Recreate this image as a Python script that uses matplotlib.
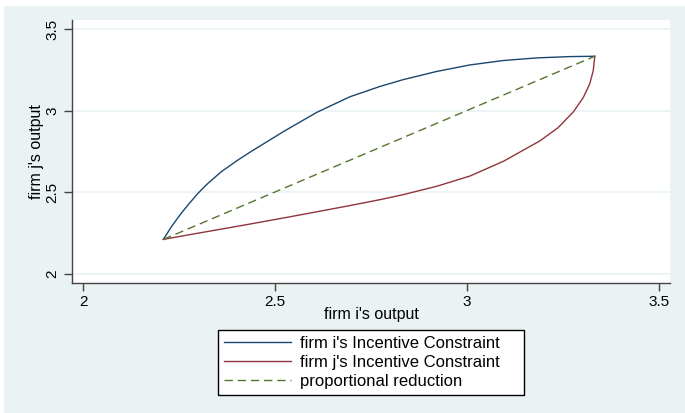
import matplotlib
matplotlib.use("Agg")
import matplotlib.pyplot as plt
from matplotlib.patches import Rectangle

plt.rcParams['font.family'] = ['Liberation Sans', 'DejaVu Sans']

# firm i's incentive constraint
ic_i_x = [2.209, 2.231, 2.253, 2.274, 2.300, 2.326, 2.361, 2.404, 2.439, 2.522,
          2.609, 2.695, 2.773, 2.834, 2.921, 3.008, 3.095, 3.182, 3.268, 3.333]
ic_i_y = [2.212, 2.293, 2.364, 2.425, 2.496, 2.557, 2.628, 2.699, 2.752, 2.872,
          2.990, 3.085, 3.148, 3.190, 3.240, 3.280, 3.307, 3.323, 3.331, 3.333]

# firm j's incentive constraint
ic_j_x = [2.209, 2.261, 2.348, 2.435, 2.522, 2.609, 2.695, 2.773, 2.834, 2.921,
          3.008, 3.095, 3.190, 3.237, 3.277, 3.303, 3.320, 3.329, 3.333]
ic_j_y = [2.212, 2.234, 2.270, 2.306, 2.343, 2.381, 2.419, 2.455, 2.486, 2.537,
          2.600, 2.690, 2.815, 2.895, 2.992, 3.080, 3.165, 3.245, 3.333]

# proportional reduction
prop_x = [2.209, 3.333]
prop_y = [2.212, 3.333]

ticks = [2, 2.5, 3, 3.5]
tick_labels = ["2", "2.5", "3", "3.5"]

bg = "#eaf2f3"
W, H = 685, 413
fig = plt.figure(figsize=(W / 100, H / 100), dpi=100, facecolor="white")
fig.patches.append(Rectangle((4 / W, 0), 1 - 4 / W, 1 - 6 / H,
                             transform=fig.transFigure, facecolor=bg,
                             edgecolor="none", zorder=-5))

ax = fig.add_axes([72 / W, 1 - 283 / H, (670 - 72) / W, (283 - 20) / H])
ax.set_facecolor("white")

ax.plot(ic_i_x, ic_i_y, color="#1a476f", lw=1.0, label="firm i's Incentive Constraint")
ax.plot(ic_j_x, ic_j_y, color="#90353b", lw=1.0, label="firm j's Incentive Constraint")
ax.plot(prop_x, prop_y, color="#55752f", lw=1.0, dashes=(6, 3.5), label="proportional reduction")

ax.set_xlim(1.971, 3.529)
ax.set_ylim(1.945, 3.555)
ax.set_xticks(ticks)
ax.set_xticklabels(tick_labels)
ax.set_yticks(ticks)
ax.set_yticklabels(tick_labels, rotation=90, va="center")

ax.grid(axis="y", color=bg, lw=1.2)
ax.set_axisbelow(True)
for s in ["top", "right"]:
    ax.spines[s].set_visible(False)
for s in ["left", "bottom"]:
    ax.spines[s].set_color("#444444")
    ax.spines[s].set_linewidth(1.0)
ax.tick_params(direction="out", length=6, width=1, color="#444444",
               labelsize=11, pad=3)

ax.set_xlabel("firm i's output", fontsize=11.5, labelpad=-2)
ax.set_ylabel("firm j's output", fontsize=11.5, labelpad=1)

leg = fig.legend(loc="lower left", bbox_to_anchor=(218 / W, 1 - 395 / H, 306 / W, 65 / H),
                 mode="expand", fontsize=12, handlelength=4.0, handletextpad=0.6,
                 labelspacing=0.25, borderaxespad=0, borderpad=0.35, fancybox=False,
                 framealpha=1, edgecolor="black", facecolor="white")
leg.get_frame().set_linewidth(1.0)

fig.savefig("out.png", dpi=100, facecolor=fig.get_facecolor())
